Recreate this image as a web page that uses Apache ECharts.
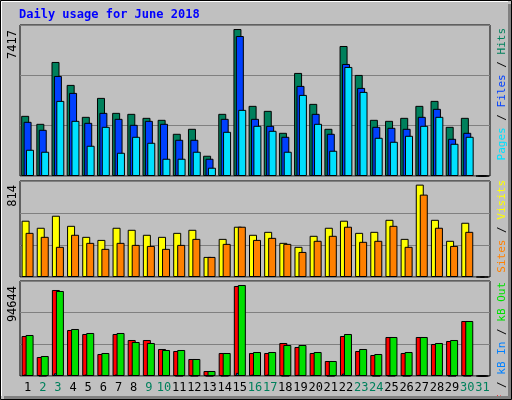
<!DOCTYPE html>
<html>
<head>
<meta charset="utf-8">
<script src="https://cdn.jsdelivr.net/npm/echarts@6/dist/echarts.min.js"></script>
<style>
  html, body { margin: 0; padding: 0; background: #c0c0c0; }
  #main { width: 512px; height: 400px; }
</style>
</head>
<body>
<div id="main"></div>
<script>
// days of June 2018
var days = ['1','2','3','4','5','6','7','8','9','10','11','12','13','14','15','16','17','18','19','20','21','22','23','24','25','26','27','28','29','30','31'];
var weekend = ['2','3','9','10','16','17','23','24','30','31'];

// top panel
var hits  = [3036,2633,5755,4597,2986,3942,3187,3137,2935,2835,2130,2382,1022,3137,7417,3540,3288,2180,5201,3640,2382,6561,5100,2835,2784,2935,3540,3791,2482,2935,0];
var files = [2734,2331,5050,4194,2684,3187,2885,2583,2784,2633,1828,1828,871,2885,7064,2885,2533,1979,4547,3137,2130,5654,4446,2482,2432,2382,2986,3389,1878,2180,0];
var pages = [1324,1224,3791,2784,1526,2482,1173,1979,1677,871,871,1224,418,2230,3338,2533,2281,1224,4093,2633,1274,5503,4245,1928,1727,2029,2533,2986,1626,1979,0];

// middle panel
var visits = [496,434,540,451,354,327,434,416,372,354,389,416,177,336,443,372,398,301,266,363,434,496,389,398,504,336,814,504,319,478,0];
var sites  = [389,354,266,372,301,248,301,283,274,248,283,336,177,292,443,327,345,292,221,319,363,443,310,319,451,266,726,434,274,398,0];

// bottom panel
var kbF   = [41600,19760,89440,47840,43680,22880,43680,37440,37440,28080,26000,17680,5200,23920,93600,23920,23920,34320,30160,23920,15600,41600,26000,21840,40560,23920,40560,33280,36400,57200,0];
var kbIn  = [1500,300,2800,1200,1500,1200,1500,1200,1000,1000,300,300,200,300,3200,1500,1500,300,1200,1200,200,2500,1200,200,300,200,1200,1200,200,300,0];
var kbOut = [42640,20800,88400,48880,44720,23920,44720,35360,34320,27040,27040,17680,5200,23920,94644,24960,24960,32240,32240,24960,15600,43680,28080,22880,40560,24960,40560,34320,37440,57200,0];

var chart = echarts.init(document.getElementById('main'));
var mono = '"DejaVu Sans Mono", monospace';

function panelY(idx, max) {
  return {
    gridIndex: idx, min: 0, max: max, interval: max / 3,
    axisLabel: { show: false }, axisLine: { show: false }, axisTick: { show: false },
    splitLine: { lineStyle: { color: '#808080', width: 1 } }
  };
}
function panelX(idx, showLabels) {
  return {
    gridIndex: idx, type: 'category', data: days,
    axisLine: { show: false }, axisTick: { show: false },
    axisLabel: {
      show: showLabels, interval: 0, margin: 6, fontFamily: mono, fontSize: 12,
      formatter: function (v) { return weekend.indexOf(v) >= 0 ? '{w|' + v + '}' : '{d|' + v + '}'; },
      rich: { w: { color: '#00805c', fontFamily: mono, fontSize: 12 }, d: { color: '#000', fontFamily: mono, fontSize: 12 } }
    }
  };
}
function bars(name, data, color, axis, width, gap) {
  return {
    name: name, type: 'bar', data: data, xAxisIndex: axis, yAxisIndex: axis,
    barWidth: width, barGap: gap, animation: false,
    itemStyle: { color: color, borderColor: '#000', borderWidth: 1 }
  };
}
function vtext(x, y, parts, size) {
  var rich = {}, txt = '';
  parts.forEach(function (p, i) {
    rich['p' + i] = { fill: p[1], font: size + 'px ' + mono };
    txt += '{p' + i + '|' + p[0] + '}';
  });
  return { type: 'text', x: x, y: y, rotation: Math.PI / 2,
    style: { text: txt, rich: rich, align: 'right', verticalAlign: 'middle', font: size + 'px ' + mono } };
}

var option = {
  backgroundColor: '#c0c0c0',
  grid: [
    { left: 20, right: 22, top: 25, height: 151, show: true, backgroundColor: '#c0c0c0', borderColor: '#000', borderWidth: 1 },
    { left: 20, right: 22, top: 181, height: 96, show: true, backgroundColor: '#c0c0c0', borderColor: '#000', borderWidth: 1 },
    { left: 20, right: 22, top: 281, height: 95, show: true, backgroundColor: '#c0c0c0', borderColor: '#000', borderWidth: 1 }
  ],
  xAxis: [panelX(0, false), panelX(1, false), panelX(2, true)],
  yAxis: [panelY(0, 7620), panelY(1, 846), panelY(2, 98799)],
  series: [
    bars('Hits', hits, '#00805c', 0, 8, '-70%'),
    bars('Files', files, '#0040ff', 0, 8, '-70%'),
    bars('Pages', pages, '#00e0ff', 0, 8, '-70%'),
    bars('Visits', visits, '#ffff00', 1, 8, '-50%'),
    bars('Sites', sites, '#ff8000', 1, 8, '-50%'),
    bars('kB F', kbF, '#ff0000', 2, 8, '-75%'),
    bars('kB In', kbIn, '#0080ff', 2, 8, '-75%'),
    bars('kB Out', kbOut, '#00e000', 2, 8, '-75%')
  ],
  graphic: [
    // bevel frame
    { type: 'rect', shape: { x: 0.5, y: 0.5, width: 511, height: 399 }, style: { fill: 'none', stroke: '#000', lineWidth: 1 }, z: 10 },
    { type: 'polyline', shape: { points: [[1.5, 396], [1.5, 1.5], [508, 1.5]] }, style: { stroke: '#fff', lineWidth: 1, fill: 'none' }, z: 10 },
    { type: 'rect', shape: { x: 508, y: 4, width: 3, height: 395 }, style: { fill: '#808080' }, z: 10 },
    { type: 'rect', shape: { x: 4, y: 396, width: 507, height: 3 }, style: { fill: '#808080' }, z: 10 },
    // title
    { type: 'text', x: 19, y: 15, style: { text: 'Daily usage for June 2018', fill: '#0000ff', font: 'bold 12px ' + mono, verticalAlign: 'middle' } },
    // max labels
    vtext(13, 30, [['7417', '#000']], 12),
    vtext(13, 185, [['814', '#000']], 12),
    vtext(13, 286, [['94644', '#000']], 12),
    // right legends
    vtext(502, 28, [['Pages', '#00e0ff'], [' / ', '#000'], ['Files', '#0040ff'], [' / ', '#000'], ['Hits', '#00805c']], 11),
    vtext(502, 180, [['Sites', '#ff8000'], [' / ', '#000'], ['Visits', '#ffff00']], 11),
    vtext(502, 282, [['kB F', '#ff0000'], [' / ', '#000'], ['kB In', '#0080ff'], [' / ', '#000'], ['kB Out', '#00e000']], 11)
  ]
};
chart.setOption(option);
</script>
</body>
</html>
